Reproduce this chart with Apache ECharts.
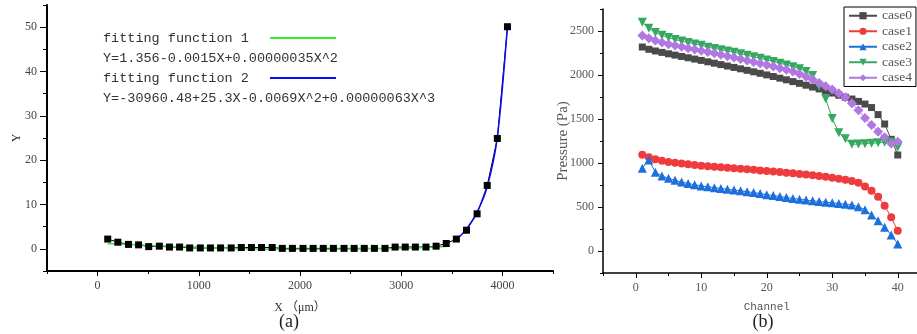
<!DOCTYPE html>
<html>
<head>
<meta charset="utf-8">
<script src="https://cdn.jsdelivr.net/npm/echarts@6/dist/echarts.min.js"></script>
<style>
  html, body { margin: 0; background: #fff; }
  #chart { width: 917px; height: 334px; }
</style>
</head>
<body>
<div id="chart"></div>
<script>
// ---- (a) measured points + two fitting curves ----
const xPos = [100, 200, 305, 405, 505, 610, 710, 810, 910, 1015,
  1115, 1215, 1320, 1420, 1520, 1620, 1725, 1825, 1925, 2030,
  2130, 2230, 2330, 2435, 2535, 2635, 2735, 2840, 2940, 3040,
  3140, 3245, 3345, 3445, 3545, 3645, 3750, 3850, 3950, 4050];
const yMeasured = [2.2, 1.5, 1.0, 0.9, 0.5, 0.6, 0.4, 0.4, 0.2, 0.2,
  0.2, 0.2, 0.2, 0.3, 0.3, 0.3, 0.3, 0.1, 0.1, 0.1,
  0.1, 0.1, 0.1, 0.1, 0.1, 0.1, 0.1, 0.1, 0.4, 0.4,
  0.4, 0.4, 0.6, 1.2, 2.2, 4.2, 7.9, 14.3, 24.9, 50.1];
// fit 1 covers the first 34 x positions, fit 2 the last 6
const fit1Y = [1.15, 1.1, 1.0, 0.9, 0.75, 0.7, 0.6, 0.55, 0.45, 0.35,
  0.25, 0.15, 0.05, 0, 0, -0.05, -0.05, -0.1, -0.1, -0.1,
  -0.1, -0.1, -0.1, -0.05, -0.05, 0, 0, 0, 0.05, 0.1,
  0.2, 0.3, 0.4, 0.5];
const fit2Y = [2.0, 4.5, 8.3, 14.0, 25.2, 50.2];
const fit2Start = 34;

const xMajorA = [0, 1000, 2000, 3000, 4000];
const xMinorA = [-500, 500, 1500, 2500, 3500, 4500];
const yMajorA = [0, 10, 20, 30, 40, 50];
const yMinorA = [-5, 5, 15, 25, 35, 45, 55];

const eq1 = 'Y=1.356-0.0015X+0.00000035X^2';
const eq2 = 'Y=-30960.48+25.3X-0.0069X^2+0.00000063X^3';

// ---- (b) pressure per channel ----
const channels = [1, 2, 3, 4, 5, 6, 7, 8, 9, 10,
  11, 12, 13, 14, 15, 16, 17, 18, 19, 20,
  21, 22, 23, 24, 25, 26, 27, 28, 29, 30,
  31, 32, 33, 34, 35, 36, 37, 38, 39, 40];
const case0 = [2318, 2292, 2273, 2257, 2241, 2226, 2211, 2196, 2181, 2166,
  2150, 2134, 2118, 2102, 2086, 2070, 2053, 2036, 2019, 2001,
  1983, 1964, 1945, 1925, 1905, 1884, 1863, 1842, 1818, 1795,
  1770, 1748, 1727, 1700, 1670, 1630, 1550, 1443, 1269, 1091];
const case1 = [1095, 1065, 1043, 1025, 1012, 1003, 994, 986, 978, 970,
  964, 958, 952, 946, 940, 934, 928, 922, 916, 910,
  903, 897, 890, 883, 876, 869, 861, 852, 843, 833,
  822, 810, 795, 775, 732, 685, 617, 515, 383, 229];
const case2 = [940, 1035, 894, 852, 826, 803, 783, 768, 753, 740,
  730, 720, 711, 702, 693, 684, 674, 664, 652, 640,
  630, 619, 608, 597, 588, 579, 570, 562, 555, 548,
  540, 532, 522, 502, 470, 410, 344, 269, 182, 80];
const case3 = [2600, 2530, 2482, 2452, 2425, 2403, 2385, 2368, 2352, 2337,
  2316, 2302, 2288, 2273, 2258, 2241, 2224, 2207, 2189, 2171,
  2153, 2134, 2115, 2095, 2072, 2040, 1995, 1870, 1730, 1505,
  1345, 1275, 1212, 1215, 1220, 1225, 1230, 1235, 1240, 1180];
const case4 = [2450, 2417, 2392, 2370, 2350, 2335, 2320, 2305, 2290, 2276,
  2261, 2246, 2230, 2214, 2198, 2182, 2165, 2148, 2131, 2114,
  2096, 2078, 2059, 2040, 2010, 1980, 1948, 1910, 1872, 1835,
  1792, 1746, 1680, 1600, 1510, 1432, 1356, 1292, 1222, 1242];

const xMajorB = [0, 10, 20, 30, 40];
const xMinorB = [-5, 5, 15, 25, 35, 45];
const yMajorB = [0, 500, 1000, 1500, 2000, 2500];
const yMinorB = [-250, 250, 750, 1250, 1750, 2250, 2750];

const SERIF = '"Liberation Serif", "Noto Sans CJK SC", serif';
const MONO = '"Liberation Mono", monospace';
const LINE_ICON = 'path://M0,0L66,0L66,2L0,2Z';

// main axis (line, major ticks, labels) + a bare twin axis for the minor ticks
function axisPair(kind, grid, min, max, major, minor, cfg) {
  const pos = kind === 'x' ? 'bottom' : 'left';
  const main = {
    type: 'value', gridIndex: grid, min, max, position: pos,
    name: cfg.name, nameLocation: 'middle', nameGap: cfg.nameGap, nameMoveOverlap: false,
    nameTextStyle: cfg.nameStyle,
    axisLine: { show: true, onZero: false, lineStyle: { color: '#000', width: cfg.lineWidth } },
    axisTick: { show: true, customValues: major, length: cfg.tickLen, lineStyle: { color: '#000', width: 1 } },
    axisLabel: {
      customValues: major, margin: cfg.margin, color: cfg.labelColor,
      fontFamily: SERIF, fontSize: 12, formatter: v => String(v)
    },
    splitLine: { show: false }
  };
  const minorAxis = {
    type: 'value', gridIndex: grid, min, max, position: pos,
    axisLine: { show: false, onZero: false },
    axisTick: { show: true, customValues: minor, length: cfg.minorLen, lineStyle: { color: '#000', width: 1 } },
    axisLabel: { show: false },
    splitLine: { show: false }
  };
  return [main, minorAxis];
}

const chart = echarts.init(document.getElementById('chart'));

const pairs = (xs, ys, offset) => ys.map((y, i) => [xs[i + (offset || 0)], y]);

const bSeries = [
  { name: 'case0', data: case0, color: '#4a4a4a', symbol: 'rect', size: 7 },
  { name: 'case1', data: case1, color: '#ee3c3e', symbol: 'circle', size: 8 },
  { name: 'case2', data: case2, color: '#1d6fdd', symbol: 'triangle', size: 9 },
  { name: 'case3', data: case3, color: '#35a862', symbol: 'triangle', size: 9, rotate: 180 },
  { name: 'case4', data: case4, color: '#b278e2', symbol: 'diamond', size: 10 }
];

const option = {
  animation: false,
  backgroundColor: '#fff',
  grid: [
    { left: 47, top: 5, width: 506, height: 266, outerBoundsMode: 'none' },
    { left: 603, top: 9, width: 327.5, height: 264, outerBoundsMode: 'none' }
  ],
  xAxis: [
    ...axisPair('x', 0, -500, 4500, xMajorA, xMinorA, {
      name: 'X （μm）', nameGap: 31, lineWidth: 2, tickLen: 5, minorLen: 3, margin: 9,
      labelColor: '#444', nameStyle: { fontFamily: SERIF, fontSize: 12, color: '#333' }
    }),
    ...axisPair('x', 1, -5, 45, xMajorB, xMinorB, {
      name: 'Channel', nameGap: 29, lineWidth: 1.5, tickLen: 5, minorLen: 3, margin: 9,
      labelColor: '#555', nameStyle: { fontFamily: MONO, fontSize: 11, color: '#555' }
    })
  ],
  yAxis: [
    ...axisPair('y', 0, -5, 55, yMajorA, yMinorA, {
      name: 'Y', nameGap: 24, lineWidth: 2, tickLen: 7, minorLen: 4, margin: 10,
      labelColor: '#444', nameStyle: { fontFamily: SERIF, fontSize: 12, color: '#333' }
    }),
    ...axisPair('y', 1, -250, 2750, yMajorB, yMinorB, {
      name: 'Pressure (Pa)', nameGap: 32, lineWidth: 1.5, tickLen: 5, minorLen: 3, margin: 9,
      labelColor: '#555', nameStyle: { fontFamily: SERIF, fontSize: 15, color: '#555' }
    })
  ],
  legend: [
    {
      orient: 'vertical', left: 98, top: 26, align: 'right',
      itemWidth: 66, itemHeight: 14, itemGap: 26,
      formatter: n => n + '  ',
      textStyle: { fontFamily: MONO, fontSize: 13.5, color: '#333' },
      data: [
        { name: 'fitting function 1', icon: LINE_ICON },
        { name: 'fitting function 2', icon: LINE_ICON }
      ]
    },
    {
      orient: 'vertical', left: 844, top: 7,
      itemWidth: 28, itemHeight: 9, itemGap: 2, padding: [2, 4, 2, 4],
      borderColor: '#000', borderWidth: 1, backgroundColor: '#fff',
      textStyle: { fontFamily: SERIF, fontSize: 13.5, color: '#555' },
      data: bSeries.map(s => s.name)
    }
  ],
  graphic: [
    { type: 'text', x: 103, y: 58, style: { text: eq1, font: '13.5px ' + MONO, fill: '#333', verticalAlign: 'middle' } },
    { type: 'text', x: 103, y: 98, style: { text: eq2, font: '13.5px ' + MONO, fill: '#333', verticalAlign: 'middle' } },
    { type: 'text', x: 289, y: 322, style: { text: '(a)', font: '18px ' + SERIF, fill: '#222', align: 'center', verticalAlign: 'middle' } },
    { type: 'text', x: 763, y: 322, style: { text: '(b)', font: '18px ' + SERIF, fill: '#222', align: 'center', verticalAlign: 'middle' } }
  ],
  series: [
    {
      name: 'measured', type: 'line', xAxisIndex: 0, yAxisIndex: 0,
      data: pairs(xPos, yMeasured),
      symbol: 'rect', symbolSize: 7,
      itemStyle: { color: '#000' }, lineStyle: { color: '#000', width: 1 }
    },
    {
      name: 'fitting function 1', type: 'line', xAxisIndex: 0, yAxisIndex: 0,
      data: pairs(xPos, fit1Y), symbol: 'none',
      itemStyle: { color: '#33ee33' }, lineStyle: { color: '#33ee33', width: 1.5 }
    },
    {
      name: 'fitting function 2', type: 'line', xAxisIndex: 0, yAxisIndex: 0,
      data: pairs(xPos, fit2Y, fit2Start), symbol: 'none', smooth: 0.3,
      itemStyle: { color: '#0a0aff' }, lineStyle: { color: '#0a0aff', width: 1.5 }
    },
    ...bSeries.map(s => ({
      name: s.name, type: 'line', xAxisIndex: 2, yAxisIndex: 2,
      data: pairs(channels, s.data),
      symbol: s.symbol, symbolSize: s.size, symbolRotate: s.rotate || 0,
      itemStyle: { color: s.color }, lineStyle: { color: s.color, width: 1 }
    }))
  ]
};

chart.setOption(option);
</script>
</body>
</html>
